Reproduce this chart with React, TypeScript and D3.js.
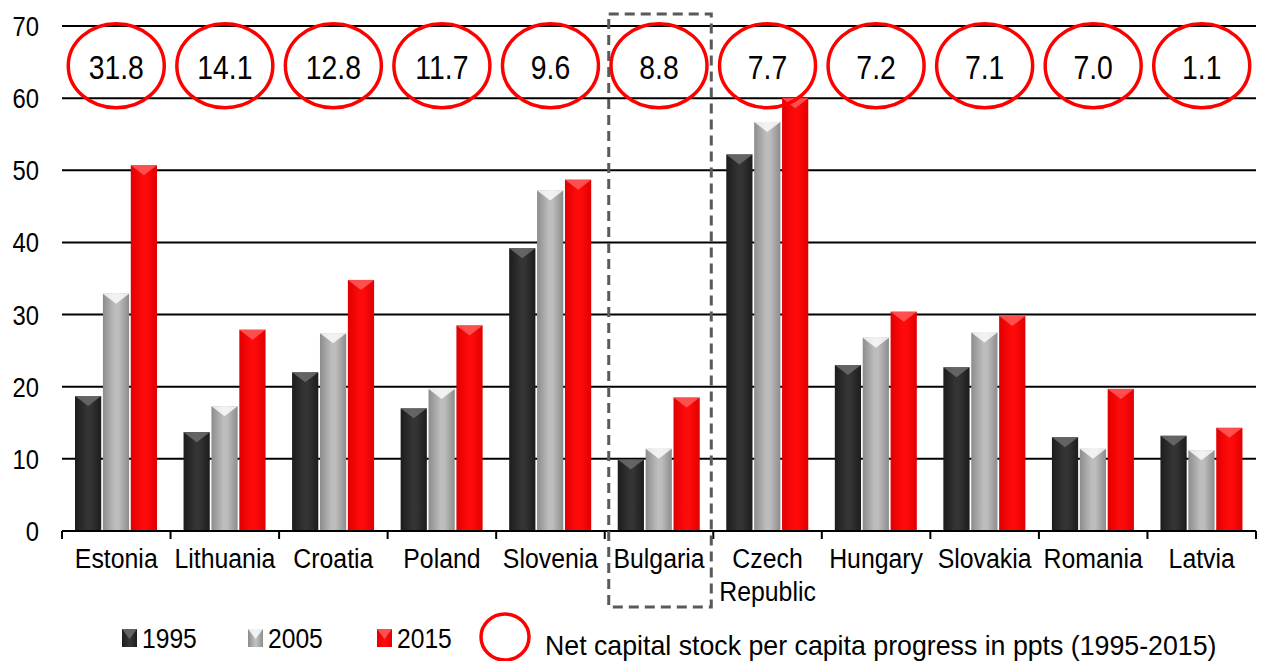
import React from 'react';
import * as d3 from 'd3';

const categories = ['Estonia', 'Lithuania', 'Croatia', 'Poland', 'Slovenia', 'Bulgaria', 'Czech Republic', 'Hungary', 'Slovakia', 'Romania', 'Latvia'];
const years = ['1995', '2005', '2015'];
const values1995 = [18.7, 13.7, 22.0, 17.0, 39.2, 9.9, 52.2, 23.0, 22.7, 13.0, 13.2];
const values2005 = [32.9, 17.3, 27.4, 19.7, 47.2, 11.4, 56.7, 26.8, 27.5, 11.4, 11.2];
const values2015 = [50.7, 27.9, 34.8, 28.5, 48.7, 18.5, 60.0, 30.4, 29.8, 19.7, 14.3];
const progress = ['31.8', '14.1', '12.8', '11.7', '9.6', '8.8', '7.7', '7.2', '7.1', '7.0', '1.1'];
const yTicks = [0, 10, 20, 30, 40, 50, 60, 70];
const highlighted = 'Bulgaria';
const legendNote = 'Net capital stock per capita progress in ppts (1995-2015)';

const W = 1262;
const H = 661;
const FONT = '"Liberation Sans", Arial, sans-serif';

const seriesValues: Record<string, number[]> = {
  '1995': values1995,
  '2005': values2005,
  '2015': values2015,
};

// colours per series: edge, centre, bevel
const looks: Record<string, { edge: string; mid: string; bevel: string }> = {
  '1995': { edge: '#1c1c1c', mid: '#343434', bevel: '#707070' },
  '2005': { edge: '#8c8c8c', mid: '#bdbdbd', bevel: '#ffffff' },
  '2015': { edge: '#e00000', mid: '#ff0a0a', bevel: '#ff6060' },
};

function Narrow({ x, y, size, anchor = 'middle', sx = 0.9, children }: any) {
  return (
    <text
      transform={`translate(${x},${y}) scale(${sx},1)`}
      textAnchor={anchor}
      fontFamily={FONT}
      fontSize={size}
      fill="#000"
    >
      {children}
    </text>
  );
}

function Bar({ x, y, w, h, k }: any) {
  const b = Math.min(10, h);
  return (
    <g>
      <rect x={x} y={y} width={w} height={h} fill={`url(#grad${k})`} />
      <path
        d={`M${x},${y}L${x + w},${y}L${x + w * 0.5},${y + b}Z`}
        fill={looks[k].bevel}
        opacity={0.8}
      />
    </g>
  );
}

export default function App() {
  const x0 = d3.scaleBand<string>().domain(categories).range([62, 1256]).padding(0);
  const x1 = d3.scaleBand<string>().domain(years).range([13, 95]).paddingInner(0.06);
  const y = d3.scaleLinear().domain([0, 70]).range([531, 26]);
  const bw = x0.bandwidth();

  const boundaries = categories.map((c) => x0(c) as number).concat([x0.range()[1]]);

  return (
    <div style={{ position: 'absolute', left: 0, top: 0 }}>
      <svg width={W} height={H} style={{ display: 'block', background: '#fff' }}>
        <defs>
          {years.map((k) => (
            <linearGradient key={k} id={`grad${k}`} x1="0" x2="1" y1="0" y2="0">
              <stop offset="0" stopColor={looks[k].edge} />
              <stop offset="0.45" stopColor={looks[k].mid} />
              <stop offset="0.6" stopColor={looks[k].mid} />
              <stop offset="1" stopColor={looks[k].edge} />
            </linearGradient>
          ))}
        </defs>

        {/* gridlines */}
        {yTicks.map((t) => (
          <line key={t} x1={62} x2={1256} y1={y(t)} y2={y(t)} stroke="#000" strokeWidth={2} />
        ))}
        {/* y tick labels */}
        {yTicks.map((t) => (
          <Narrow key={t} x={39} y={y(t) + 10} size={28} anchor="end" sx={0.85}>
            {t}
          </Narrow>
        ))}

        {/* bars */}
        {categories.map((c, i) => (
          <g key={c} transform={`translate(${x0(c)},0)`}>
            {years.map((k) => {
              const v = seriesValues[k][i];
              return (
                <Bar key={k} x={x1(k)} y={y(v)} w={x1.bandwidth()} h={y(0) - y(v)} k={k} />
              );
            })}
          </g>
        ))}

        {/* axis ticks */}
        <line x1={62} x2={1256} y1={y(0)} y2={y(0)} stroke="#000" strokeWidth={2} />
        {boundaries.map((b, i) => (
          <line key={i} x1={b} x2={b} y1={y(0)} y2={y(0) + 8} stroke="#000" strokeWidth={2} />
        ))}

        {/* category labels */}
        {categories.map((c) => {
          const cx = (x0(c) as number) + bw / 2;
          const parts = c === 'Czech Republic' ? ['Czech', 'Republic'] : [c];
          return parts.map((p, j) => (
            <Narrow key={c + j} x={cx} y={568 + j * 33} size={27} sx={0.92}>
              {p}
            </Narrow>
          ));
        })}

        {/* progress circles */}
        {categories.map((c, i) => {
          const cx = (x0(c) as number) + bw / 2;
          const cy = y(64.5);
          return (
            <g key={c}>
              <ellipse cx={cx} cy={cy} rx={48} ry={42} fill="none" stroke="#ff0000" strokeWidth={3.5} />
              <Narrow x={cx} y={cy + 13} size={33} sx={0.86}>
                {progress[i]}
              </Narrow>
            </g>
          );
        })}

        {/* highlight box */}
        <rect
          x={(x0(highlighted) as number) + 4}
          y={14}
          width={bw - 6}
          height={593}
          fill="none"
          stroke="#595959"
          strokeWidth={3}
          strokeDasharray="10 6"
        />

        {/* legend */}
        {years.map((k, i) => {
          const lx = [122, 248, 377][i];
          return (
            <g key={k}>
              <Bar x={lx} y={629} w={15} h={18} k={k} />
              <Narrow x={lx + 20} y={648} size={28} anchor="start" sx={0.88}>
                {k}
              </Narrow>
            </g>
          );
        })}
        <ellipse cx={505} cy={637} rx={24} ry={23} fill="none" stroke="#ff0000" strokeWidth={3.5} />
        <Narrow x={545} y={655} size={27} anchor="start" sx={0.99}>
          {legendNote}
        </Narrow>
      </svg>
    </div>
  );
}
